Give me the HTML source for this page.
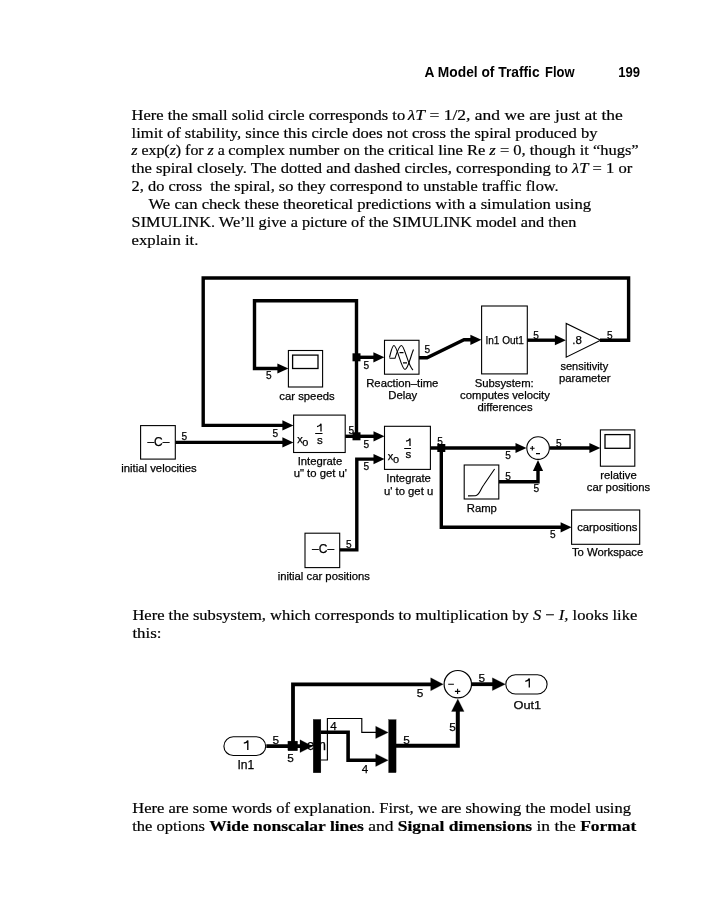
<!DOCTYPE html>
<html><head><meta charset="utf-8"><style>
html,body{margin:0;padding:0;background:#fff;width:702px;height:900px;overflow:hidden}
svg{display:block;will-change:transform}
.serif text{font-family:"Liberation Serif",serif}
.sans text{font-family:"Liberation Sans",sans-serif}
</style></head><body>
<svg width="702" height="900" viewBox="0 0 702 900">
<g class="sans"><text x="424.6" y="77.1" font-weight="bold" font-size="14.5" textLength="115.0" lengthAdjust="spacingAndGlyphs">A Model of Traffic</text>
<text x="545.0" y="77.1" font-weight="bold" font-size="14.5" textLength="29.5" lengthAdjust="spacingAndGlyphs">Flow</text>
<text x="618.2" y="77.1" font-weight="bold" font-size="14.5" textLength="21.8" lengthAdjust="spacingAndGlyphs">199</text></g>
<g class="serif" fill="#000" stroke="#000" stroke-width="0.2"><text x="131.6" y="119.9" font-size="15.3" textLength="273.6" lengthAdjust="spacingAndGlyphs">Here the small solid circle corresponds to</text>
<text x="407.8" y="119.9" font-size="15.3" textLength="215.1" lengthAdjust="spacingAndGlyphs"><tspan font-style="italic">&#955;</tspan><tspan font-style="italic">T</tspan> = 1/2, and we are just at the</text>
<text x="131.6" y="137.7" font-size="15.3" textLength="465.9" lengthAdjust="spacingAndGlyphs">limit of stability, since this circle does not cross the spiral produced by</text>
<text x="131.3" y="155.4" font-size="15.3" textLength="93.5" lengthAdjust="spacingAndGlyphs"><tspan font-style="italic">z</tspan> exp(<tspan font-style="italic">z</tspan>) for <tspan font-style="italic">z</tspan> a</text>
<text x="228.2" y="155.4" font-size="15.3" textLength="410.5" lengthAdjust="spacingAndGlyphs">complex number on the critical line Re <tspan font-style="italic">z</tspan> = 0, though it &#8220;hugs&#8221;</text>
<text x="131.6" y="172.8" font-size="15.3" textLength="500.7" lengthAdjust="spacingAndGlyphs">the spiral closely. The dotted and dashed circles, corresponding to <tspan font-style="italic">&#955;</tspan><tspan font-style="italic">T</tspan> = 1 or</text>
<text x="131.6" y="190.6" font-size="15.3" textLength="427.1" lengthAdjust="spacingAndGlyphs">2, do cross&#160; the spiral, so they correspond to unstable traffic flow.</text>
<text x="148.5" y="209.1" font-size="15.3" textLength="442.6" lengthAdjust="spacingAndGlyphs">We can check these theoretical predictions with a simulation using</text>
<text x="131.6" y="226.6" font-size="15.3" textLength="444.7" lengthAdjust="spacingAndGlyphs">SIMULINK. We&#8217;ll give a picture of the SIMULINK model and then</text>
<text x="131.6" y="244.6" font-size="15.3" textLength="66.8" lengthAdjust="spacingAndGlyphs">explain it.</text>
<text x="132.4" y="619.9" font-size="15.3" textLength="504.9" lengthAdjust="spacingAndGlyphs">Here the subsystem, which corresponds to multiplication by <tspan font-style="italic">S</tspan> &#8722; <tspan font-style="italic">I</tspan>, looks like</text>
<text x="132.4" y="637.9" font-size="15.3" textLength="29.1" lengthAdjust="spacingAndGlyphs">this:</text>
<text x="132.3" y="812.6" font-size="15.3" textLength="498.6" lengthAdjust="spacingAndGlyphs">Here are some words of explanation. First, we are showing the model using</text>
<text x="132.3" y="830.6" font-size="15.3" textLength="72.7" lengthAdjust="spacingAndGlyphs">the options</text>
<text x="209.3" y="830.6" font-size="15.3" textLength="427.1" lengthAdjust="spacingAndGlyphs"><tspan font-weight="bold">Wide nonscalar lines</tspan> and <tspan font-weight="bold">Signal dimensions</tspan> in the <tspan font-weight="bold">Format</tspan></text></g>
<g class="diag"><polyline fill="none" stroke="#000" stroke-width="3.40" points="600.0,340.2 628.6,340.2 628.6,278.0 203.2,278.0 203.2,425.4 285.0,425.4"/>
<polygon points="293.4,425.4 282.4,420.3 282.4,430.5"/>
<polyline fill="none" stroke="#000" stroke-width="3.40" points="356.5,436.3 356.5,300.8 254.5,300.8 254.5,368.5 280.0,368.5"/>
<polygon points="288.4,368.5 277.4,363.4 277.4,373.6"/>
<polyline fill="none" stroke="#000" stroke-width="3.40" points="356.5,357.3 376.0,357.3"/>
<polygon points="384.4,357.3 373.4,352.2 373.4,362.4"/>
<rect x="352.5" y="353.3" width="8.0" height="8.0"/>
<polyline fill="none" stroke="#000" stroke-width="3.40" points="345.0,436.3 376.0,436.3"/>
<polygon points="384.5,436.3 373.5,431.2 373.5,441.4"/>
<rect x="352.5" y="432.3" width="8.0" height="8.0"/>
<polyline fill="none" stroke="#000" stroke-width="3.40" points="419.0,357.8 427.0,357.8 464.0,339.8 473.0,339.8"/>
<polygon points="481.4,339.8 470.4,334.7 470.4,344.9"/>
<polyline fill="none" stroke="#000" stroke-width="3.40" points="526.6,340.2 557.0,340.2"/>
<polygon points="565.9,340.2 554.9,335.1 554.9,345.3"/>
<polyline fill="none" stroke="#000" stroke-width="3.40" points="175.2,442.4 285.0,442.4"/>
<polygon points="293.4,442.4 282.4,437.3 282.4,447.5"/>
<polyline fill="none" stroke="#000" stroke-width="3.40" points="430.4,448.0 518.0,448.0"/>
<polygon points="526.5,448.0 515.5,442.9 515.5,453.1"/>
<polyline fill="none" stroke="#000" stroke-width="3.40" points="441.3,448.0 441.3,527.3 563.0,527.3"/>
<polygon points="571.6,527.3 560.6,522.2 560.6,532.4"/>
<rect x="437.3" y="444.0" width="8.0" height="8.0"/>
<polyline fill="none" stroke="#000" stroke-width="3.40" points="339.7,549.9 356.8,549.9 356.8,459.1 376.0,459.1"/>
<polygon points="384.5,459.1 373.5,454.0 373.5,464.2"/>
<polyline fill="none" stroke="#000" stroke-width="3.40" points="549.8,448.0 592.0,448.0"/>
<polygon points="600.4,448.0 589.4,442.9 589.4,453.1"/>
<polyline fill="none" stroke="#000" stroke-width="3.40" points="498.8,481.8 538.0,481.8 538.0,470.0"/>
<polygon points="538.0,460.0 532.9,471.0 543.1,471.0"/>
<rect x="140.60" y="425.60" width="34.70" height="33.50" fill="#fff" stroke="#000" stroke-width="1.10" />
<rect x="293.60" y="415.10" width="51.60" height="37.40" fill="#fff" stroke="#000" stroke-width="1.10" />
<rect x="384.50" y="426.30" width="45.90" height="43.10" fill="#fff" stroke="#000" stroke-width="1.10" />
<rect x="288.40" y="350.50" width="34.20" height="36.50" fill="#fff" stroke="#000" stroke-width="1.10" />
<rect x="292.60" y="355.10" width="25.40" height="13.40" fill="#fff" stroke="#000" stroke-width="1.30" />
<rect x="384.50" y="340.30" width="34.50" height="33.90" fill="#fff" stroke="#000" stroke-width="1.10" />
<rect x="481.60" y="306.00" width="45.70" height="67.90" fill="#fff" stroke="#000" stroke-width="1.10" />
<polygon points="566.2,323.5 566.2,357.2 600.6,340.3" fill="#fff" stroke="#000" stroke-width="1.1"/>
<circle cx="538.1" cy="448.1" r="11.3" fill="#fff" stroke="#000" stroke-width="1.1"/>
<rect x="600.40" y="429.90" width="34.40" height="36.30" fill="#fff" stroke="#000" stroke-width="1.10" />
<rect x="605.00" y="434.60" width="25.00" height="13.70" fill="#fff" stroke="#000" stroke-width="1.30" />
<rect x="464.20" y="465.00" width="34.60" height="34.00" fill="#fff" stroke="#000" stroke-width="1.10" />
<rect x="571.60" y="510.00" width="68.10" height="34.30" fill="#fff" stroke="#000" stroke-width="1.10" />
<rect x="305.00" y="533.20" width="34.70" height="34.40" fill="#fff" stroke="#000" stroke-width="1.10" />
<path d="M389.5,357.5 C391,352 392,345.5 394,345.5 C397,345.5 401.5,369.5 405,369.5 C408,369.5 411,355 413.5,349.5" fill="none" stroke="#000" stroke-width="1.1"/>
<path d="M389.5,358.3 L395,358.3 C397,352 399,345.5 401.5,345.5 C404.5,345.5 408,366 413,370" fill="none" stroke="#000" stroke-width="1.1"/>
<path d="M399.5,352.6 h4 M403,362.9 h4" stroke="#000" stroke-width="1.4"/>
<path d="M468,495.9 L475.4,495.8 C477,495.6 479,493.5 480.5,490.5 C481.5,488.5 482.5,486.5 484,484.5 L494.6,469" fill="none" stroke="#000" stroke-width="1.1"/>
<path d="M530,448.3 h4.6 M532.3,446 v4.6 M536,453.6 h4" stroke="#000" stroke-width="1.1"/></g>
<g class="sans" fill="#000" stroke="#000" stroke-width="0.25"><text x="158.4" y="445.5" font-size="12.0" text-anchor="middle">&#8211;C&#8211;</text>
<text x="323.1" y="553.2" font-size="12.0" text-anchor="middle">&#8211;C&#8211;</text>
<text x="297.3" y="442.9" font-size="11.0">x</text>
<text x="302.3" y="445.5" font-size="11.0">o</text>
<path d="M321.00,431.60 V423.80 C320.40,425.40 318.60,426.40 317.00,426.60" fill="none" stroke="#000" stroke-width="1.25"/>
<path d="M315.2,433.5 h7.3" stroke="#000" stroke-width="1"/>
<text x="319.8" y="443.8" font-size="11.5" text-anchor="middle">s</text>
<text x="387.7" y="459.7" font-size="11.0">x</text>
<text x="392.9" y="462.7" font-size="11.0">o</text>
<path d="M410.00,446.00 V438.40 C409.40,440.00 407.60,441.00 406.00,441.20" fill="none" stroke="#000" stroke-width="1.25"/>
<path d="M404.2,448.5 h6.8" stroke="#000" stroke-width="1"/>
<text x="408.4" y="457.6" font-size="11.5" text-anchor="middle">s</text>
<text x="159.0" y="472.0" font-size="11.3" text-anchor="middle">initial velocities</text>
<text x="307.0" y="400.0" font-size="11.3" text-anchor="middle">car speeds</text>
<text x="402.3" y="386.8" font-size="11.3" text-anchor="middle">Reaction&#8211;time</text>
<text x="402.7" y="398.5" font-size="11.3" text-anchor="middle">Delay</text>
<text x="504.2" y="386.9" font-size="11.3" text-anchor="middle">Subsystem:</text>
<text x="505.0" y="398.7" font-size="11.3" text-anchor="middle">computes velocity</text>
<text x="505.0" y="410.5" font-size="11.3" text-anchor="middle">differences</text>
<text x="584.3" y="370.2" font-size="11.3" text-anchor="middle" textLength="47.8" lengthAdjust="spacingAndGlyphs">sensitivity</text>
<text x="584.8" y="382.2" font-size="11.3" text-anchor="middle">parameter</text>
<text x="320.0" y="464.8" font-size="11.3" text-anchor="middle">Integrate</text>
<text x="320.3" y="477.3" font-size="11.3" text-anchor="middle">u" to get u'</text>
<text x="408.6" y="482.3" font-size="11.3" text-anchor="middle">Integrate</text>
<text x="408.6" y="495.0" font-size="11.3" text-anchor="middle">u' to get u</text>
<text x="618.5" y="479.0" font-size="11.3" text-anchor="middle">relative</text>
<text x="618.5" y="491.3" font-size="11.3" text-anchor="middle">car positions</text>
<text x="481.8" y="512.0" font-size="11.3" text-anchor="middle">Ramp</text>
<text x="607.6" y="556.3" font-size="11.3" text-anchor="middle">To Workspace</text>
<text x="323.8" y="580.0" font-size="11.3" text-anchor="middle">initial car positions</text>
<text x="607.3" y="530.9" font-size="11.3" text-anchor="middle">carpositions</text>
<text x="485.4" y="344.3" font-size="10.8" textLength="38.5" lengthAdjust="spacingAndGlyphs">In1 Out1</text>
<text x="572.3" y="344.3" font-size="11.5">.8</text>
<text x="181.5" y="440.0" font-size="10.1">5</text>
<text x="272.5" y="437.3" font-size="10.1">5</text>
<text x="266.1" y="379.0" font-size="10.1">5</text>
<text x="348.5" y="434.0" font-size="10.1">5</text>
<text x="363.5" y="368.6" font-size="10.1">5</text>
<text x="424.4" y="352.9" font-size="10.1">5</text>
<text x="533.3" y="339.3" font-size="10.1">5</text>
<text x="607.1" y="339.3" font-size="10.1">5</text>
<text x="363.5" y="448.0" font-size="10.1">5</text>
<text x="363.5" y="470.4" font-size="10.1">5</text>
<text x="437.3" y="444.8" font-size="10.1">5</text>
<text x="505.2" y="458.5" font-size="10.1">5</text>
<text x="556.0" y="447.0" font-size="10.1">5</text>
<text x="505.2" y="479.7" font-size="10.1">5</text>
<text x="533.5" y="492.0" font-size="10.1">5</text>
<text x="550.1" y="537.7" font-size="10.1">5</text>
<text x="346.1" y="547.8" font-size="10.1">5</text></g>
<g class="sans" fill="#000" stroke="#000" stroke-width="0.25"><text x="306.8" y="749.7" font-size="13.8">em</text>
<rect x="223.9" y="736.8" width="41.8" height="18.7" rx="9.35" fill="#fff" stroke="#000" stroke-width="1.1"/>
<path d="M247.80,750.00 V740.40 C247.20,742.00 245.40,743.00 243.80,743.20" fill="none" stroke="#000" stroke-width="1.35"/>
<text x="237.5" y="769.3" font-size="12.7" textLength="16.8" lengthAdjust="spacingAndGlyphs">In1</text>
<polyline fill="none" stroke="#000" stroke-width="3.80" points="266.3,746.2 302.0,746.2"/>
<polygon points="312.5,746.2 300.0,739.8 300.0,752.6"/>
<polyline fill="none" stroke="#000" stroke-width="3.80" points="293.0,746.2 293.0,684.3 432.0,684.3"/>
<polygon points="443.2,684.3 430.7,677.8 430.7,690.8"/>
<rect x="287.9" y="741.1" width="9.7" height="9.7"/>
<rect x="313.2" y="719.4" width="7.7" height="53.4"/>
<polyline fill="none" stroke="#000" stroke-width="1.15" points="321.0,760.0 327.4,760.0 327.4,718.5 361.8,718.5 361.8,732.4 378.0,732.4"/>
<polygon points="388.2,732.4 375.7,726.2 375.7,738.6"/>
<polyline fill="none" stroke="#000" stroke-width="3.60" points="321.0,732.2 348.1,732.2 348.1,760.2 378.0,760.2"/>
<polygon points="388.2,760.2 375.7,753.9 375.7,766.5"/>
<rect x="388.6" y="719.6" width="7.5" height="53.1"/>
<polyline fill="none" stroke="#000" stroke-width="4.00" points="396.0,745.8 457.8,745.8 457.8,708.0"/>
<polygon points="457.8,698.9 451.5,711.4 464.1,711.4"/>
<circle cx="457.8" cy="684.2" r="13.7" fill="#fff" stroke="#000" stroke-width="1.2"/>
<path d="M448.2,684.2 h5.7 M454.9,691.4 h5.4 M457.6,688.7 v5.4" stroke="#000" stroke-width="1.1"/>
<polyline fill="none" stroke="#000" stroke-width="3.80" points="471.5,684.2 494.0,684.2"/>
<polygon points="505.3,684.2 492.4,677.8 492.4,690.6"/>
<rect x="505.8" y="674.7" width="41.3" height="19.3" rx="9.65" fill="#fff" stroke="#000" stroke-width="1.1"/>
<path d="M529.30,687.40 V678.50 C528.70,680.10 526.90,681.10 525.30,681.30" fill="none" stroke="#000" stroke-width="1.30"/>
<text x="513.6" y="708.6" font-size="11.8" textLength="27.6" lengthAdjust="spacingAndGlyphs">Out1</text>
<text x="272.4" y="743.7" font-size="11.8">5</text>
<text x="287.2" y="762.3" font-size="11.8">5</text>
<text x="478.4" y="681.7" font-size="11.8">5</text>
<text x="416.8" y="696.9" font-size="11.8">5</text>
<text x="403.2" y="743.8" font-size="11.8">5</text>
<text x="449.2" y="730.8" font-size="11.8">5</text>
<text x="330.3" y="729.7" font-size="11.6">4</text>
<text x="361.8" y="772.7" font-size="11.6">4</text></g>
</svg>
</body></html>
